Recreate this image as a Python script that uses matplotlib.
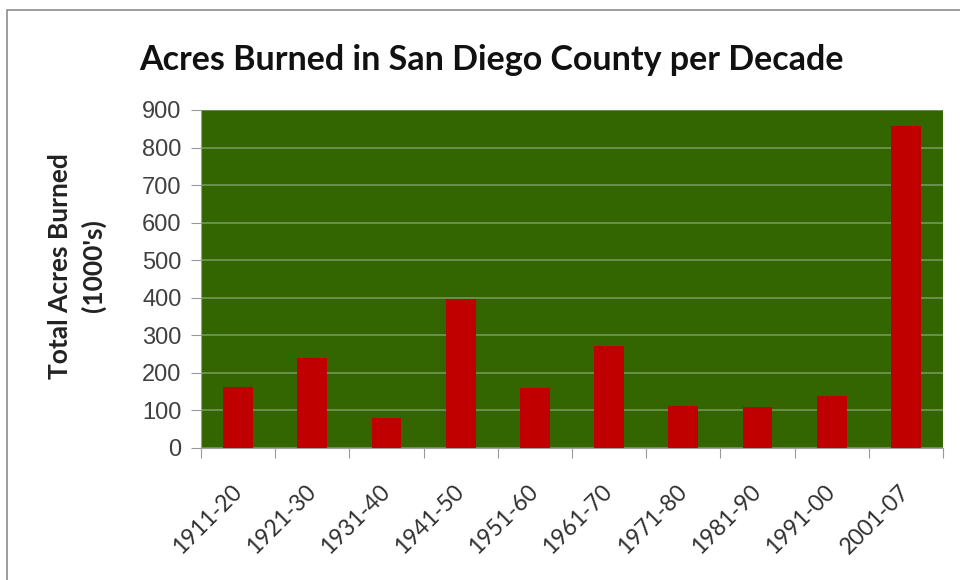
import numpy as np
import matplotlib
matplotlib.use('Agg')
import matplotlib.pyplot as plt
from matplotlib.patches import Rectangle

decades = ['1911-20', '1921-30', '1931-40', '1941-50', '1951-60',
           '1961-70', '1971-80', '1981-90', '1991-00', '2001-07']
acres = [163, 240, 80, 398, 160, 271, 112, 109, 138, 857]

fig = plt.figure(figsize=(9.6, 5.8), dpi=100)
# outer chart frame
fig.patches.append(Rectangle((7/960, -0.1), 1.2, 1 - 10/580 + 0.1, transform=fig.transFigure,
                             fill=False, edgecolor='#8c8c8c', linewidth=1.2))

ax = fig.add_axes([201/960, 1 - 448/580, (943 - 201)/960, (448 - 110)/580])
ax.set_facecolor('#336600')
x = np.arange(len(decades))
ax.bar(x, acres, width=0.4, color='#c00000', zorder=3)

ax.set_xlim(-0.5, len(decades) - 0.5)
ax.set_ylim(0, 900)
ax.set_yticks(np.arange(0, 901, 100))
ax.yaxis.grid(True, color='#75955a', linewidth=1.2, zorder=1)
ax.set_axisbelow(True)

ax.set_xticks(np.arange(-0.5, len(decades)), minor=False)
ax.set_xticklabels([])
ax.set_xticks(x, minor=True)
ax.set_xticklabels(decades, minor=True, rotation=45, ha='right', va='center',
                   rotation_mode='anchor', fontsize=16.5, family='Lato', color='#303030')
ax.tick_params(axis='x', which='minor', length=0, pad=29)
ax.tick_params(axis='x', which='major', length=7, color='#999999', direction='out')
ax.tick_params(axis='y', length=7, color='#999999', labelsize=17, labelcolor='#404040', pad=7)
for lbl in ax.get_yticklabels():
    lbl.set_family('Liberation Sans')

for s in ['top', 'right']:
    ax.spines[s].set_visible(False)
ax.spines['left'].set_color('#a0a0a0')
ax.spines['bottom'].set_color('#a0a0a0')

fig.text(77/960, 1 - 266/580, "Total Acres Burned\n(1000's)", rotation=90, ha='center',
         va='center', multialignment='center', fontsize=19, fontweight='bold',
         family='Lato', color='#222222', linespacing=1.4)

fig.text(491/960, 1 - 60/580, 'Acres Burned in San Diego County per Decade', ha='center',
         va='center', fontsize=24.5, fontweight='bold', family='Lato', color='#111111')

fig.savefig('out.png', dpi=100)
